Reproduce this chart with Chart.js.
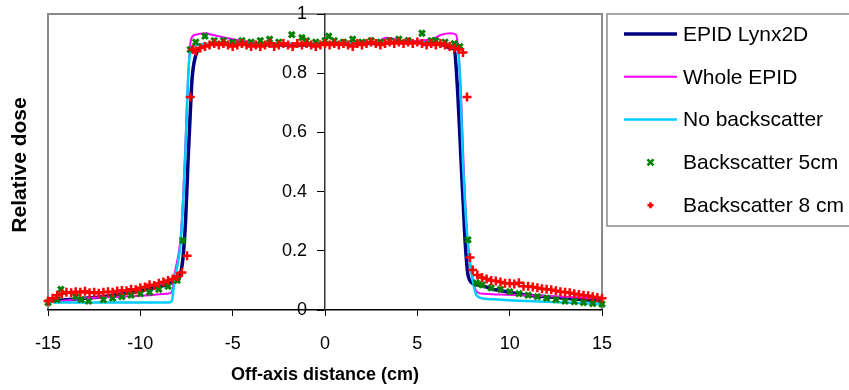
<!DOCTYPE html>
<html lang="en">
<head>
  <meta charset="UTF-8" />
  <title>Relative dose profile</title>
  <script src="https://cdn.jsdelivr.net/npm/chart.js"></script>
  <style>
    html, body { margin: 0; padding: 0; background: #fff; }
    .grafico { position: relative; width: 849px; height: 390px; }
  </style>
</head>
<body>
  <div class="grafico"><canvas id="perfil"></canvas></div>

  <script>
    // EPID Lynx2D (thick navy line)
    const lynxX = [-15,-14,-13,-12,-11,-10,-9,-8.5,-8.2,-7.95,-7.8,-7.7,-7.55,-7.42,-7.3,-7.2,-7.0,-6.8,
                   -6.4,-6,-5,-4,-3,-2,-1,0,1,2,3,4,5,6,6.4,
                   6.8,7.0,7.2,7.37,7.5,7.58,7.74,8.0,
                   8.5,9,10,11,12,13,14,15];
    const lynxY = [0.03,0.035,0.04,0.045,0.055,0.065,0.078,0.088,0.095,0.1,0.13,0.17,0.3,0.5,0.66,0.78,0.86,0.885,
                   0.895,0.9,0.9,0.9,0.895,0.895,0.895,0.9,0.9,0.9,0.9,0.905,0.905,0.9,0.895,
                   0.885,0.88,0.72,0.5,0.34,0.24,0.12,0.09,
                   0.082,0.072,0.06,0.05,0.045,0.04,0.035,0.03];

    // Whole EPID (magenta)
    const wholeX = [-15,-14.5,-13,-11,-9.5,-8.6,-8.3,
                    -8.15,-7.8,-7.6,-7.4,-7.25,-7.0,
                    -6.5,-6.0,-5.0,-4,-3,-2,-1,0,1,2,
                    2.8,3.3,3.8,4.3,5,5.8,6.3,6.8,7.1,
                    7.2,7.35,7.5,7.7,7.95,8.25,
                    8.6,9.5,11,13,15];
    const wholeY = [0.035,0.03,0.04,0.045,0.05,0.055,0.06,
                    0.12,0.26,0.5,0.8,0.915,0.93,
                    0.935,0.928,0.915,0.905,0.9,0.9,0.9,0.9,0.9,0.905,
                    0.905,0.92,0.915,0.905,0.91,0.915,0.93,0.935,0.93,
                    0.89,0.75,0.5,0.25,0.12,0.06,
                    0.055,0.052,0.05,0.045,0.04];

    // No backscatter (cyan)
    const noBackX = [-15,-14.5,-13,-11,-9,-8.5,-8.3,
                     -8.15,-7.8,-7.58,-7.4,-7.25,-7.0,
                     -6,-5,-4,-3,-2,-1,0,1,2,3,4,5,6,
                     6.8,7.15,7.3,7.47,7.7,7.95,8.2,8.5,
                     9.5,11,13,15];
    const noBackY = [0.03,0.025,0.025,0.025,0.025,0.025,0.03,
                     0.1,0.24,0.5,0.8,0.885,0.895,
                     0.9,0.9,0.9,0.895,0.9,0.895,0.9,0.9,0.9,0.905,0.905,0.905,0.9,
                     0.895,0.89,0.8,0.5,0.25,0.12,0.05,0.04,
                     0.035,0.03,0.025,0.02];

    // Backscatter 5cm (green x markers)
    const back5X = [-15,-14.5,-14.3,-13.5,-13.2,-12.8,-12,-11.5,-11,-10.5,-10,-9.5,-9,-8.5,-8,
                    -7.7,-7.3,-7,-6.5,-6,-5.5,-5,-4.5,-4,-3.5,-3,-2.5,-1.8,-1.25,-1,-0.5,0,0.2,
                    0.5,1,1.5,2,2.5,3,3.5,4,4.5,5.25,5.75,6,6.5,7,7.3,
                    7.74,8.2,8.5,9,9.5,10,10.5,11,11.5,12,12.5,13,13.5,14,14.5,15];
    const back5Y = [0.025,0.035,0.07,0.045,0.035,0.03,0.035,0.04,0.045,0.05,0.055,0.06,0.07,0.08,0.1,
                    0.235,0.88,0.905,0.925,0.91,0.91,0.905,0.91,0.905,0.91,0.915,0.905,0.93,0.92,0.91,0.905,0.91,0.925,
                    0.91,0.905,0.915,0.905,0.91,0.905,0.91,0.915,0.91,0.935,0.91,0.91,0.905,0.9,0.89,
                    0.237,0.092,0.085,0.075,0.07,0.062,0.055,0.05,0.045,0.04,0.035,0.03,0.028,0.025,0.022,0.02];

    // Backscatter 8 cm (red + markers)
    const back8X = [-15,-14.75,-14.5,-14.25,-14,-13.75,-13.5,-13.25,-13,-12.75,-12.5,-12.25,-12,-11.75,-11.5,-11.25,
                    -11,-10.75,-10.5,-10.25,-10,-9.75,-9.5,-9.25,-9,-8.75,-8.5,-8.25,-8,-7.75,-7.47,-7.3,-7.15,-7,
                    -6.75,-6.5,-6.25,-6,-5.75,-5.5,-5.25,-5,-4.75,-4.5,-4.25,-4,-3.75,-3.5,-3.25,-3,-2.75,-2.5,
                    -2.25,-2,-1.75,-1.5,-1.25,-1,-0.75,-0.5,-0.25,0,0.25,0.5,0.75,1,1.25,1.5,1.75,2,2.25,2.5,
                    2.75,3,3.25,3.5,3.75,4,4.25,4.5,4.75,5,5.25,5.5,5.75,6,6.25,6.5,6.75,7,
                    7.25,7.47,7.69,7.85,8,8.25,8.5,8.75,9,9.25,9.5,9.75,10,10.25,10.5,10.75,11,11.25,11.5,11.75,
                    12,12.25,12.5,12.75,13,13.25,13.5,13.75,14,14.25,14.5,14.75,15];
    const back8Y = [0.03,0.04,0.05,0.055,0.06,0.058,0.062,0.06,0.063,0.058,0.06,0.057,0.06,0.062,0.06,0.064,
                    0.066,0.065,0.07,0.068,0.075,0.078,0.085,0.083,0.09,0.095,0.1,0.105,0.113,0.127,0.183,0.72,0.88,0.875,
                    0.885,0.89,0.895,0.9,0.895,0.9,0.895,0.89,0.895,0.9,0.895,0.89,0.895,0.89,0.895,0.9,0.89,0.895,
                    0.9,0.895,0.89,0.9,0.895,0.9,0.895,0.89,0.895,0.9,0.895,0.9,0.895,0.9,0.895,0.89,0.9,0.895,0.9,0.905,
                    0.9,0.895,0.9,0.905,0.9,0.905,0.9,0.905,0.9,0.905,0.9,0.895,0.9,0.895,0.9,0.895,0.89,0.885,
                    0.88,0.87,0.72,0.177,0.135,0.118,0.11,0.105,0.1,0.098,0.095,0.09,0.09,0.088,0.092,0.08,0.08,0.078,0.075,0.072,
                    0.07,0.068,0.065,0.062,0.06,0.058,0.055,0.052,0.05,0.048,0.045,0.042,0.04];

    const xTicks = { min: -15, max: 15, step: 5 };
    const yTicks = { min: 0, max: 1, step: 0.2 };

    const FONTE = '"Liberation Sans", Arial, sans-serif';
    Chart.defaults.font.family = FONTE;
    Chart.defaults.color = '#000';

    const pontos = (xs, ys) => xs.map((x, i) => ({ x: x, y: ys[i] }));

    // gray frame round the plot + rotated y title
    const moldura = {
      id: 'moldura',
      beforeDraw(chart) {
        const { ctx, chartArea: a } = chart;
        ctx.save();
        ctx.strokeStyle = '#8a8a8a';
        ctx.lineWidth = 2;
        ctx.beginPath();
        ctx.moveTo(a.left, a.bottom);
        ctx.lineTo(a.left, a.top);
        ctx.lineTo(a.right, a.top);
        ctx.lineTo(a.right, a.bottom);
        ctx.stroke();

        ctx.translate(20, 165);
        ctx.rotate(-Math.PI / 2);
        ctx.font = 'bold 21px ' + FONTE;
        ctx.fillStyle = '#000';
        ctx.textAlign = 'center';
        ctx.textBaseline = 'middle';
        ctx.fillText('Relative dose', 0, 0);
        ctx.restore();
      }
    };

    function marcador(ctx, estilo, x, y, r, cor, larg) {
      ctx.save();
      ctx.strokeStyle = cor;
      ctx.lineWidth = larg;
      ctx.beginPath();
      if (estilo === 'crossRot') {
        ctx.moveTo(x - r, y - r); ctx.lineTo(x + r, y + r);
        ctx.moveTo(x - r, y + r); ctx.lineTo(x + r, y - r);
      } else {
        ctx.moveTo(x - r, y); ctx.lineTo(x + r, y);
        ctx.moveTo(x, y - r); ctx.lineTo(x, y + r);
      }
      ctx.stroke();
      ctx.restore();
    }

    // legend box on the right (Excel style)
    const legenda = {
      id: 'legenda',
      afterDraw(chart) {
        const { ctx, chartArea: a } = chart;
        const left = a.right + 5, top = 14, bottom = 226;
        ctx.save();
        ctx.strokeStyle = '#8a8a8a';
        ctx.lineWidth = 1.5;
        ctx.strokeRect(left, top, chart.width - left + 5, bottom - top);
        chart.data.datasets.forEach((ds, i) => {
          const y = top + 20 + i * 42.8;
          const x0 = left + 17, x1 = left + 70;
          if (ds.showLine) {
            ctx.strokeStyle = ds.borderColor;
            ctx.lineWidth = ds.borderWidth;
            ctx.beginPath();
            ctx.moveTo(x0, y);
            ctx.lineTo(x1, y);
            ctx.stroke();
          } else {
            marcador(ctx, ds.pointStyle, (x0 + x1) / 2, y, 3, ds.pointBorderColor, 2.5);
          }
          ctx.fillStyle = '#000';
          ctx.font = '21px ' + FONTE;
          ctx.textAlign = 'left';
          ctx.textBaseline = 'middle';
          ctx.fillText(ds.label, left + 76, y + 1);
        });
        ctx.restore();
      }
    };

    const ctx = document.getElementById('perfil').getContext('2d');
    new Chart(ctx, {
      type: 'scatter',
      data: {
        datasets: [
          {
            label: 'EPID Lynx2D',
            data: pontos(lynxX, lynxY),
            showLine: true, borderColor: '#000080', borderWidth: 3.5,
            pointRadius: 0, cubicInterpolationMode: 'monotone', order: 5
          },
          {
            label: 'Whole EPID',
            data: pontos(wholeX, wholeY),
            showLine: true, borderColor: '#ff00ff', borderWidth: 2,
            pointRadius: 0, cubicInterpolationMode: 'monotone', order: 4
          },
          {
            label: 'No backscatter',
            data: pontos(noBackX, noBackY),
            showLine: true, borderColor: '#00ccff', borderWidth: 2.5,
            pointRadius: 0, cubicInterpolationMode: 'monotone', order: 3
          },
          {
            label: 'Backscatter 5cm',
            data: pontos(back5X, back5Y),
            showLine: false, pointStyle: 'crossRot', pointRadius: 4,
            pointBorderColor: '#008000', pointBorderWidth: 3, order: 2
          },
          {
            label: 'Backscatter 8 cm',
            data: pontos(back8X, back8Y),
            showLine: false, pointStyle: 'cross', pointRadius: 4.5,
            pointBorderColor: '#ff0000', pointBorderWidth: 2.5, order: 1
          }
        ]
      },
      options: {
        responsive: true,
        maintainAspectRatio: false,
        animation: false,
        devicePixelRatio: 1,
        clip: false,
        layout: { padding: { left: 48, right: 247, top: 14, bottom: 0 } },
        plugins: {
          legend: { display: false },
          tooltip: { enabled: false }
        },
        scales: {
          x: {
            type: 'linear',
            position: 'bottom',
            min: xTicks.min,
            max: xTicks.max,
            ticks: { stepSize: xTicks.step, color: '#000', font: { size: 18 }, padding: 17 },
            grid: { display: true, drawOnChartArea: false, drawTicks: true, tickLength: 6, tickColor: '#000' },
            border: { display: true, color: '#000', width: 1.5 },
            title: {
              display: true, text: 'Off-axis distance (cm)', color: '#000',
              font: { size: 18, weight: 'bold' }, padding: { top: 4, bottom: 4 }
            },
            afterFit(scale) { scale.height = 80; }
          },
          y: {
            type: 'linear',
            position: 'center',
            min: yTicks.min,
            max: yTicks.max,
            ticks: {
              stepSize: yTicks.step, color: '#000', font: { size: 18 }, padding: 11,
              callback: (v) => String(Number(v.toFixed(1)))
            },
            grid: { display: true, drawOnChartArea: false, drawTicks: true, tickLength: 7, tickColor: '#000' },
            border: { display: true, color: '#333', width: 1.5 },
            afterFit(scale) { scale.paddingTop = 0; scale.paddingBottom = 0; }
          }
        }
      },
      plugins: [moldura, legenda]
    });
  </script>
</body>
</html>
